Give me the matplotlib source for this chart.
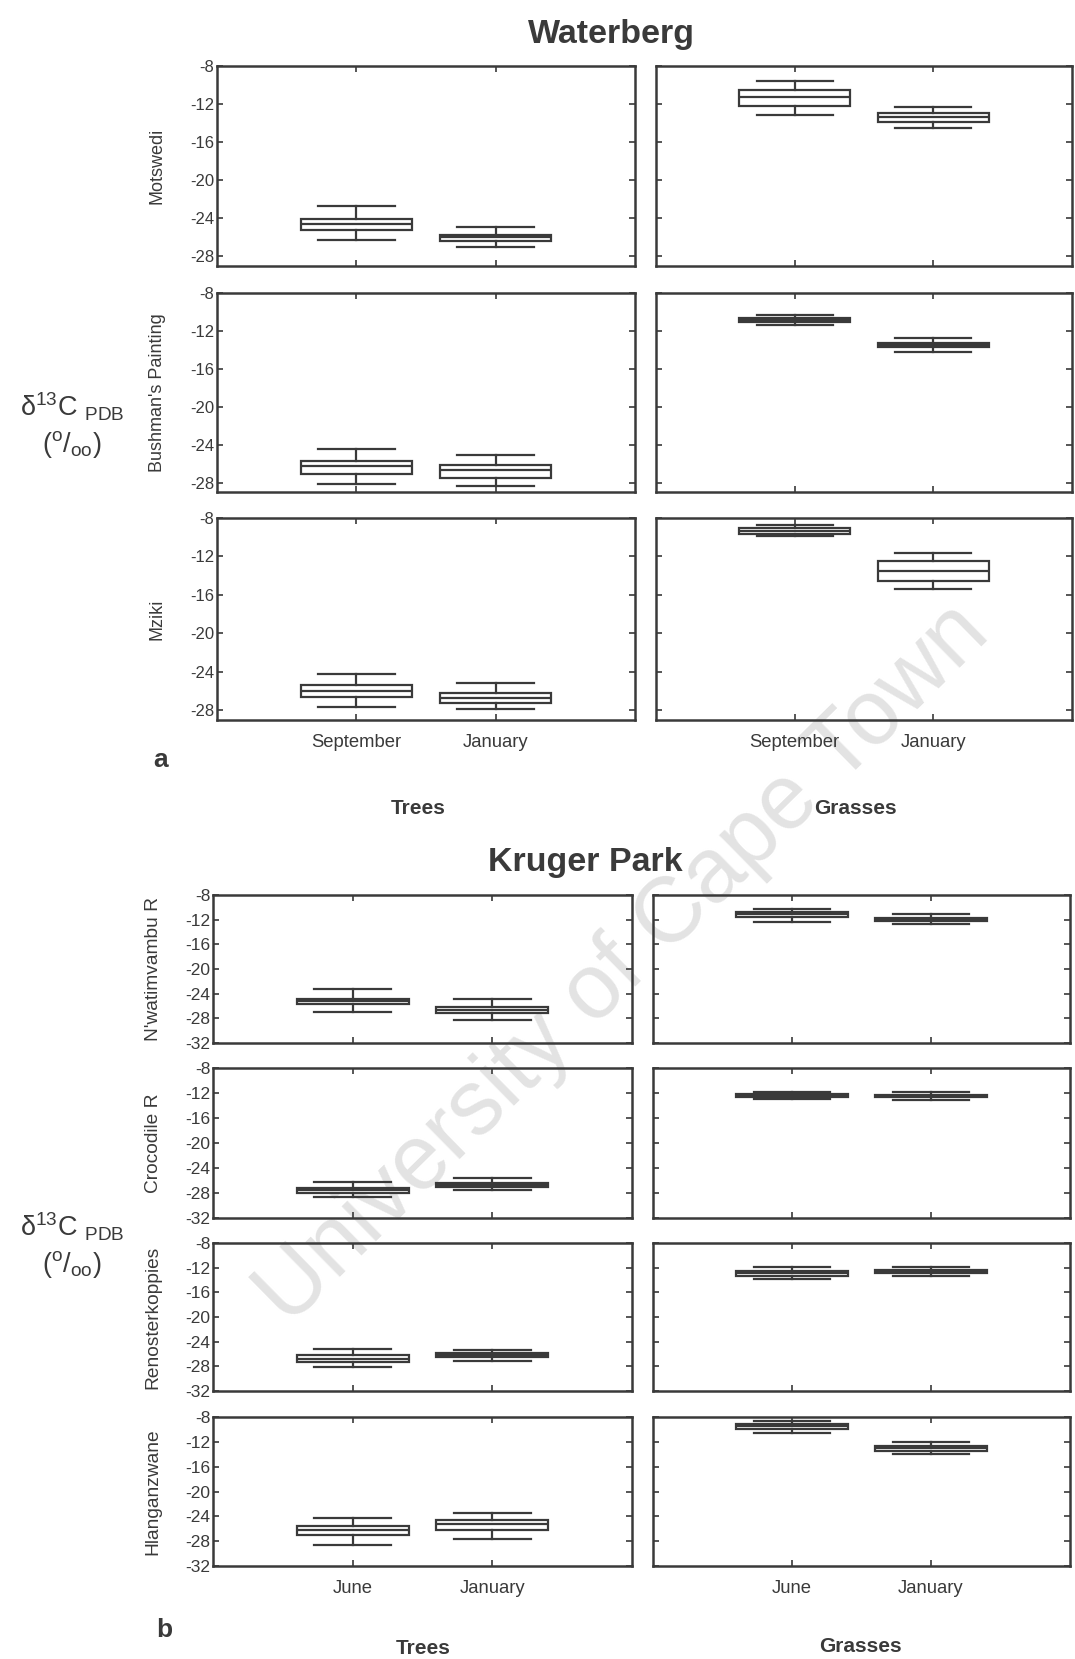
import matplotlib
matplotlib.use("Agg")
import matplotlib.pyplot as plt

plt.rcParams["font.family"] = ["Liberation Sans", "DejaVu Sans"]
plt.rcParams["mathtext.fontset"] = "custom"
plt.rcParams["mathtext.rm"] = "Liberation Sans"
plt.rcParams["mathtext.it"] = "Liberation Sans:italic"

INK = "#3a3a3a"

# ---- Waterberg ----
wb_sites = ["Motswedi", "Bushman's Painting", "Mziki"]
wb_months = ["September", "January"]
wb_yticks = [-8, -12, -16, -20, -24, -28]

# rows = sites, columns = months (September, January)
wb_trees_mid = [[-24.6, -26.0], [-26.3, -26.7], [-26.0, -26.7]]
wb_trees_box_hi = [[-24.1, -25.7], [-25.7, -26.2], [-25.4, -26.2]]
wb_trees_box_lo = [[-25.2, -26.4], [-27.05, -27.5], [-26.6, -27.2]]
wb_trees_whisk_hi = [[-22.7, -24.9], [-24.5, -25.1], [-24.2, -25.2]]
wb_trees_whisk_lo = [[-26.3, -27.0], [-28.2, -28.35], [-27.65, -27.9]]

wb_grass_mid = [[-11.3, -13.4], [-10.85, -13.5], [-9.3, -13.5]]
wb_grass_box_hi = [[-10.55, -12.95], [-10.65, -13.25], [-9.0, -12.45]]
wb_grass_box_lo = [[-12.15, -13.85], [-11.05, -13.7], [-9.65, -14.55]]
wb_grass_whisk_hi = [[-9.6, -12.3], [-10.3, -12.8], [-8.7, -11.6]]
wb_grass_whisk_lo = [[-13.1, -14.5], [-11.4, -14.2], [-9.9, -15.35]]

# ---- Kruger Park ----
kp_sites = ["N'watimvambu R", "Crocodile R", "Renosterkoppies", "Hlanganzwane"]
kp_months = ["June", "January"]
kp_yticks = [-8, -12, -16, -20, -24, -28, -32]

kp_trees_mid = [[-25.25, -26.7], [-27.55, -26.75], [-26.75, -26.15], [-26.2, -25.3]]
kp_trees_box_hi = [[-24.9, -26.15], [-27.15, -26.35], [-26.2, -25.9], [-25.5, -24.6]]
kp_trees_box_lo = [[-25.6, -27.15], [-27.95, -27.05], [-27.3, -26.55], [-27.0, -26.2]]
kp_trees_whisk_hi = [[-23.2, -24.9], [-26.25, -25.65], [-25.2, -25.35], [-24.3, -23.4]]
kp_trees_whisk_lo = [[-27.05, -28.3], [-28.6, -27.55], [-28.1, -27.1], [-28.6, -27.6]]

kp_grass_mid = [[-11.15, -11.95], [-12.4, -12.45], [-12.9, -12.65], [-9.5, -13.0]]
kp_grass_box_hi = [[-10.8, -11.75], [-12.2, -12.25], [-12.5, -12.4], [-9.1, -12.6]]
kp_grass_box_lo = [[-11.5, -12.15], [-12.65, -12.7], [-13.35, -12.85], [-9.9, -13.4]]
kp_grass_whisk_hi = [[-10.2, -11.15], [-11.9, -11.9], [-11.95, -11.95], [-8.6, -12.0]]
kp_grass_whisk_lo = [[-12.3, -12.7], [-13.0, -13.1], [-13.85, -13.3], [-10.5, -14.0]]

W, H = 1075, 1659
fig = plt.figure(figsize=(W / 100, H / 100), dpi=100)
fig.patch.set_facecolor("white")

# Repository watermark across the figure, drawn beneath everything else
fig.text(624 / W, 1 - 965 / H, "University of Cape Town", rotation=44.5,
         ha="center", va="center", fontsize=66, color="#e3e3e3",
         fontweight="light", zorder=-1)


def add_ax(x0, y0, x1, y1):
    ax = fig.add_axes([x0 / W, 1 - y1 / H, (x1 - x0) / W, (y1 - y0) / H])
    ax.set_facecolor("none")
    return ax


def draw_panel(ax, i, mid, bhi, blo, whi, wlo, months, yticks, ylim,
               show_ylabels, show_xlabels, tick_fs):
    stats = []
    for j in range(2):
        stats.append(dict(med=mid[i][j], q1=blo[i][j], q3=bhi[i][j],
                          whislo=wlo[i][j], whishi=whi[i][j], label=months[j]))
    lp = dict(color=INK, linewidth=1.6)
    ax.bxp(stats, positions=[1, 2], widths=0.8, capwidths=0.55,
           showfliers=False, patch_artist=True,
           boxprops=dict(facecolor="white", edgecolor=INK, linewidth=1.6),
           whiskerprops=lp, capprops=lp, medianprops=lp)
    ax.set_xlim(0, 3)
    ax.set_ylim(*ylim)
    ax.set_yticks(yticks)
    ax.set_xticks([1, 2])
    if show_ylabels:
        ax.set_yticklabels([f"{t:d}" for t in yticks])
    else:
        ax.set_yticklabels([])
    if show_xlabels:
        ax.set_xticklabels(months)
    else:
        ax.set_xticklabels([])
    ax.tick_params(direction="in", top=True, right=True, length=4,
                   width=1.2, color=INK, labelcolor=INK, labelsize=tick_fs,
                   pad=2)
    ax.tick_params(axis="x", labelsize=13.3, pad=10)
    for s in ax.spines.values():
        s.set_linewidth(1.8)
        s.set_color(INK)


# Waterberg panels
wb_rows = [(66, 266), (293, 492), (518, 720)]
for i, (y0, y1) in enumerate(wb_rows):
    last = i == len(wb_rows) - 1
    axl = add_ax(217, y0, 635, y1)
    draw_panel(axl, i, wb_trees_mid, wb_trees_box_hi, wb_trees_box_lo,
               wb_trees_whisk_hi, wb_trees_whisk_lo, wb_months, wb_yticks,
               (-29, -8), True, last, 12)
    axr = add_ax(656, y0, 1072, y1)
    draw_panel(axr, i, wb_grass_mid, wb_grass_box_hi, wb_grass_box_lo,
               wb_grass_whisk_hi, wb_grass_whisk_lo, wb_months, wb_yticks,
               (-29, -8), False, last, 12)
    fig.text(157 / W, 1 - (y0 + y1) / 2 / H, wb_sites[i], rotation=90,
             ha="center", va="center", fontsize=13, color=INK)

# Kruger Park panels
kp_rows = [(895, 1043), (1068, 1218), (1243, 1391), (1417, 1566)]
for i, (y0, y1) in enumerate(kp_rows):
    last = i == len(kp_rows) - 1
    axl = add_ax(213, y0, 632, y1)
    draw_panel(axl, i, kp_trees_mid, kp_trees_box_hi, kp_trees_box_lo,
               kp_trees_whisk_hi, kp_trees_whisk_lo, kp_months, kp_yticks,
               (-32, -8), True, last, 12.5)
    axr = add_ax(653, y0, 1070, y1)
    draw_panel(axr, i, kp_grass_mid, kp_grass_box_hi, kp_grass_box_lo,
               kp_grass_whisk_hi, kp_grass_whisk_lo, kp_months, kp_yticks,
               (-32, -8), False, last, 12.5)
    fig.text(153 / W, 1 - (y0 + y1) / 2 / H, kp_sites[i], rotation=90,
             ha="center", va="center", fontsize=13.8, color=INK)

# Titles and group labels
fig.text(611 / W, 1 - 35 / H, "Waterberg", ha="center", va="center",
         fontsize=24.5, fontweight="bold", color=INK)
fig.text(585 / W, 1 - 862 / H, "Kruger Park", ha="center", va="center",
         fontsize=24.5, fontweight="bold", color=INK)
for (x, y, s) in [(418, 808, "Trees"), (855, 808, "Grasses"),
                  (423, 1648, "Trees"), (860, 1647, "Grasses")]:
    fig.text(x / W, 1 - y / H, s, ha="center", va="center", fontsize=15,
             fontweight="bold", color=INK)
fig.text(161 / W, 1 - 760 / H, "a", ha="center", va="center", fontsize=19,
         fontweight="bold", color=INK)
fig.text(164 / W, 1 - 1630 / H, "b", ha="center", va="center", fontsize=19,
         fontweight="bold", color=INK)

# Axis quantity labels
for yc in (407, 1227):
    fig.text(72 / W, 1 - yc / H, "δ$^{13}$C $_{\\mathrm{PDB}}$",
             ha="center", va="center", fontsize=19.5, color=INK)
    fig.text(72 / W, 1 - (yc + 38) / H, "($^{\\mathrm{o}}$/$_{\\mathrm{oo}}$)",
             ha="center", va="center", fontsize=19.5, color=INK)

fig.savefig("out.png", dpi=100, facecolor="white")
